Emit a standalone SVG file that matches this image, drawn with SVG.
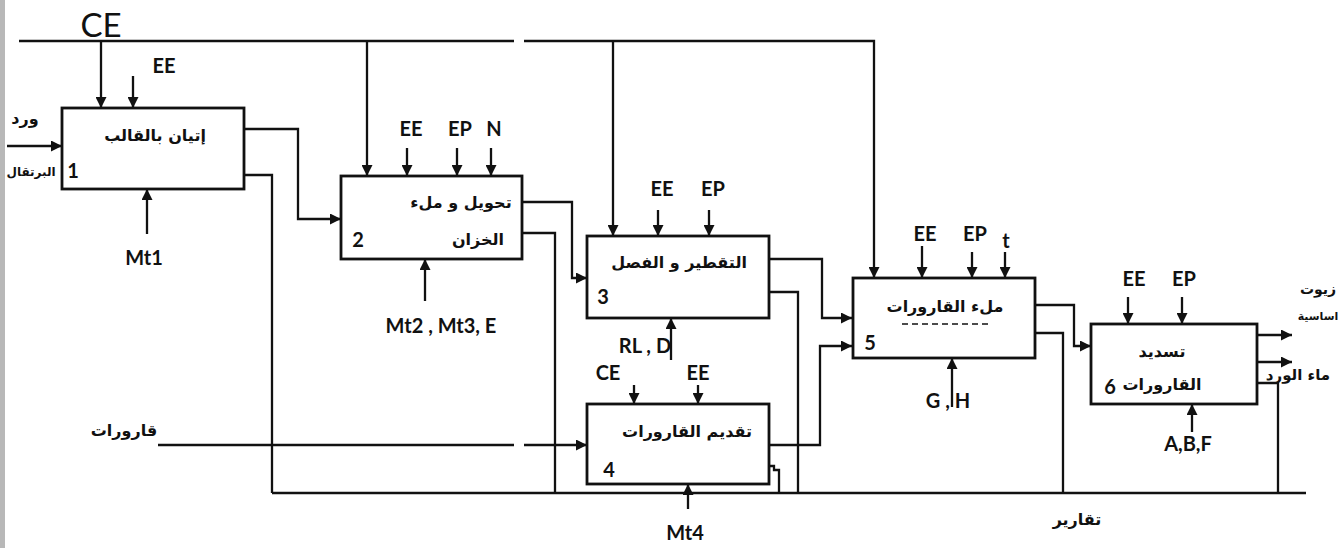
<svg xmlns="http://www.w3.org/2000/svg" width="1343" height="548" viewBox="0 0 1343 548">
<defs>
<marker id="ah" viewBox="0 0 10 10" refX="10" refY="5" markerWidth="11" markerHeight="11" markerUnits="userSpaceOnUse" orient="auto">
<path d="M0,0 L10,5 L0,10 z" fill="#111"/>
</marker>
<style>
.box{fill:#fff;stroke:#111;stroke-width:2.8}
.ln{fill:none;stroke:#111;stroke-width:2.3}
.ar{fill:none;stroke:#111;stroke-width:2.3;marker-end:url(#ah)}
.lb{font-family:Lato,"Liberation Sans",sans-serif;font-weight:700;font-size:20px;fill:#111;text-anchor:middle}
.ar-t{font-family:"DejaVu Sans",sans-serif;font-weight:700;font-size:16px;fill:#111;text-anchor:middle}
.num{font-family:Lato,"Liberation Sans",sans-serif;font-weight:700;font-size:20px;fill:#111;text-anchor:middle}
</style>
</defs>
<rect x="0" y="0" width="1343" height="548" fill="#fff"/>

<g id="connectors">
<path class="ln" d="M19,41 H514"/>
<path class="ar" d="M524,41 H874 V278"/>
<path class="ar" d="M101,41 V108"/>
<path class="ar" d="M367,41 V176"/>
<path class="ar" d="M613,41 V236"/>
<path class="ar" d="M133,76 V108"/>
<path class="ar" d="M7,146 H62"/>
<path class="ar" d="M147,234 V189"/>
<path class="ar" d="M244,129 H298 V219 H341"/>
<path class="ln" d="M244,175 H272 V493"/>
<path class="ar" d="M407,148 V176"/>
<path class="ar" d="M457,148 V176"/>
<path class="ar" d="M491,148 V176"/>
<path class="ar" d="M425,301 V259"/>
<path class="ar" d="M522,202 H572 V278 H587"/>
<path class="ln" d="M522,233 H555 V493"/>
<path class="ar" d="M658,210 V236"/>
<path class="ar" d="M709,210 V236"/>
<path class="ar" d="M671,360 V318"/>
<path class="ar" d="M769,259 H822 V318 H852"/>
<path class="ln" d="M769,292 H798 V493"/>
<path class="ar" d="M634,385 V404"/>
<path class="ar" d="M698,385 V404"/>
<path class="ln" d="M158,445 H514"/>
<path class="ar" d="M524,445 H587"/>
<path class="ar" d="M769,445 H820 V346 H852"/>
<path class="ln" d="M769,466 H774 V470 H779 V493"/>
<path class="ar" d="M688,509 V484"/>
<path class="ar" d="M922,246 V278"/>
<path class="ar" d="M972,252 V278"/>
<path class="ar" d="M1005,252 V278"/>
<path class="ar" d="M952,407 V358"/>
<path class="ar" d="M1035,305 H1074 V346 H1091"/>
<path class="ln" d="M1035,333 H1063 V493"/>
<path class="ar" d="M1128,297 V324"/>
<path class="ar" d="M1182,297 V324"/>
<path class="ar" d="M1192,432 V404"/>
<path class="ar" d="M1257,335 H1292"/>
<path class="ar" d="M1257,362 H1292"/>
<path class="ln" d="M1257,383 H1278 V493"/>
<path class="ln" d="M272,493 H1306"/>
</g>

<g id="node1">
<rect class="box" x="62" y="108" width="182" height="81"/>
<text class="ar-t" x="155" y="141">إتيان بالقالب</text>
<text class="num" x="73" y="178">1</text>
</g>
<g id="node2">
<rect class="box" x="341" y="176" width="181" height="83"/>
<text class="ar-t" x="461" y="208">تحويل و ملء</text>
<text class="ar-t" x="478" y="245">الخزان</text>
<text class="num" x="358" y="247">2</text>
</g>
<g id="node3">
<rect class="box" x="587" y="236" width="182" height="82"/>
<text class="ar-t" x="679" y="268">التقطير و الفصل</text>
<text class="num" x="603" y="304">3</text>
</g>
<g id="node4">
<rect class="box" x="587" y="404" width="182" height="80"/>
<text class="ar-t" x="687" y="437">تقديم القارورات</text>
<text class="num" x="609" y="477">4</text>
</g>
<g id="node5">
<rect class="box" x="853" y="278" width="182" height="80"/>
<text class="ar-t" x="945" y="312">ملء القارورات</text>
<line x1="902" y1="324" x2="990" y2="324" stroke="#111" stroke-width="1.6" stroke-dasharray="6,4"/>
<text class="num" x="870" y="350">5</text>
</g>
<g id="node6">
<rect class="box" x="1091" y="324" width="166" height="80"/>
<text class="ar-t" x="1162" y="357">تسديد</text>
<text class="ar-t" x="1162" y="390">القارورات</text>
<text class="num" x="1110" y="394">6</text>
</g>

<g id="labels">
<text x="101" y="37" font-family="Lato,'Liberation Sans',sans-serif" font-size="33" fill="#111" text-anchor="middle">CE</text>
<text class="lb" x="164" y="73">EE</text>
<text class="lb" x="144" y="265">Mt1</text>
<text class="lb" x="411" y="136">EE</text>
<text class="lb" x="460" y="136">EP</text>
<text class="lb" x="494" y="136">N</text>
<text class="lb" x="441" y="333">Mt2 , Mt3, E</text>
<text class="lb" x="645" y="353">RL , D</text>
<text class="lb" x="662" y="196">EE</text>
<text class="lb" x="713" y="196">EP</text>
<text class="lb" x="608" y="380">CE</text>
<text class="lb" x="698" y="380">EE</text>
<text class="lb" x="685" y="540">Mt4</text>
<text class="lb" x="925" y="241">EE</text>
<text class="lb" x="975" y="241">EP</text>
<text class="lb" x="1006" y="248">t</text>
<text class="lb" x="948" y="408">G , H</text>
<text class="lb" x="1134" y="286">EE</text>
<text class="lb" x="1184" y="286">EP</text>
<text class="lb" x="1188" y="451">A,B,F</text>
<text class="ar-t" x="25" y="124">ورد</text>
<text class="ar-t" x="31" y="176" style="font-size:12px">البرتقال</text>
<text class="ar-t" x="124" y="436">قارورات</text>
<text class="ar-t" x="1077" y="525">تقارير</text>
<text class="ar-t" x="1318" y="294" style="font-size:14px">زيوت</text>
<text class="ar-t" x="1318" y="320" style="font-size:11px">اساسية</text>
<text class="ar-t" x="1298" y="380" style="font-size:15px">ماء الورد</text>
</g>
<rect x="0" y="0" width="5" height="548" fill="#b8b8b8"/>
</svg>
